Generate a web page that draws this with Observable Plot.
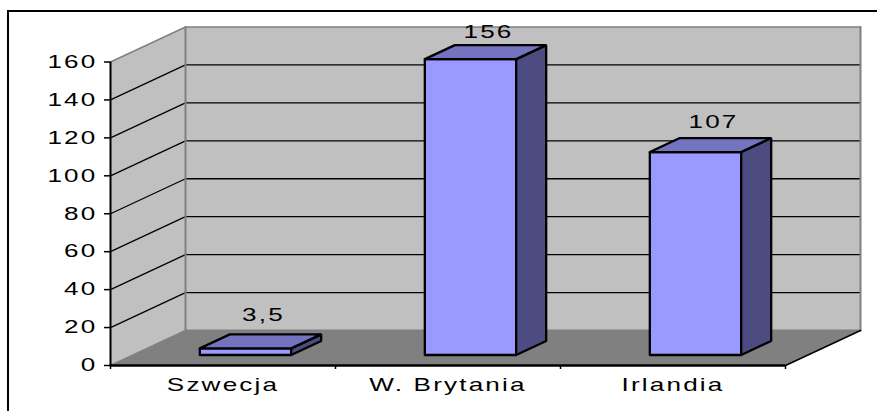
<!DOCTYPE html>
<html><head><meta charset="utf-8">
<script src="https://cdn.jsdelivr.net/npm/d3@7"></script>
<script src="https://cdn.jsdelivr.net/npm/@observablehq/plot@0.6"></script>
<style>
html,body{margin:0;padding:0;background:#fff;}
#chart{position:relative;width:877px;height:411px;overflow:hidden;}
#chart svg{display:block;overflow:visible;}
#box{position:absolute;left:7px;top:10px;width:880px;height:420px;border:2px solid #000;pointer-events:none;}
</style></head><body>
<div id="chart"><div id="box"></div></div>
<script>
const categories = ["Szwecja", "W. Brytania", "Irlandia"];
const values = [3.5, 156, 107];
const valueLabels = ["3,5", "156", "107"];
const yTicks = [0, 20, 40, 60, 80, 100, 120, 140, 160];
const gridTicks = [20, 40, 60, 80, 100, 120, 140];
const categoryEdges = [0, 1, 2, 3];
const categoryCentres = [0.5, 1.5, 2.5];

// oblique projection of (category position, value, depth 0..1)
const depthX = 1 / 3;        // category units per full depth
const depthY = 18.45;        // value units per full depth
const P = (c, v, z) => ({px: c + z * depthX, py: v + z * depthY});
const poly = (pts, id) => {
  const out = pts.map(([c, v, z]) => ({...P(c, v, z), id}));
  out.push(out[0]);
  return out;
};
const seg = (a, b, id) => [{...P(...a), id}, {...P(...b), id}];
const face = (pts, fill, stroke, sw) =>
  Plot.line(poly(pts, 0), {x: "px", y: "py", fill, stroke: stroke || "none", strokeWidth: sw || 0, curve: "linear", strokeLinejoin: "miter"});
const edge = (a, b, stroke, sw) =>
  Plot.line(seg(a, b, 0), {x: "px", y: "py", stroke, strokeWidth: sw, curve: "linear"});

const yMax = yTicks[yTicks.length - 1];
const xMax = categoryEdges[categoryEdges.length - 1];
const wallGrey = "#c0c0c0", floorGrey = "#808080", edgeGrey = "#808080";

const marks = [
  // walls and floor
  face([[0,0,0],[0,yMax,0],[0,yMax,1],[0,0,1]], wallGrey),
  face([[0,0,1],[0,yMax,1],[xMax,yMax,1],[xMax,0,1]], wallGrey),
  face([[0,0,0],[0,0,1],[xMax,0,1],[xMax,0,0]], floorGrey),
  // gridlines
  ...gridTicks.flatMap(t => [edge([0,t,0],[0,t,1],"#000",1.3), edge([0,t,1],[xMax,t,1],"#000",1.3)]),
  // grey wall edges
  edge([0,yMax,0],[0,yMax,1],edgeGrey,1.5),
  edge([0,yMax,1],[xMax,yMax,1],edgeGrey,1.5),
  edge([0,0,1],[0,yMax,1],edgeGrey,2),
  edge([xMax,0,1],[xMax,yMax,1],edgeGrey,2),
  edge([0,0,1],[xMax,0,1],edgeGrey,2),
  edge([0,0,0],[0,0,1],edgeGrey,1.5),
  edge([xMax,0,0],[xMax,0,1],"#000",1.5),
  // bars
  ...values.flatMap((v, i) => {
    const a = i + 0.297, b = i + 0.703, z0 = 0.3, z1 = 0.7;
    return [
      face([[a,0,z0],[b,0,z0],[b,v,z0],[a,v,z0]], "#9999ff", "#000", 2.3),
      face([[b,0,z0],[b,0,z1],[b,v,z1],[b,v,z0]], "#4c4c80", "#000", 2.3),
      face([[a,v,z0],[b,v,z0],[b,v,z1],[a,v,z1]], "#7373bf", "#000", 2.3)
    ];
  }),
  // value labels
  ...values.map((v, i) => Plot.text([{...P(i + 0.5, v, 0.7), label: valueLabels[i]}], {
    x: "px", y: "py", text: "label", dx: -12, dy: v > 150 ? -13 : v < 10 ? -19 : -16, fontSize: 18, fill: "#000"
  })),
  // axes
  Plot.axisY({ticks: yTicks, tickSize: 6, tickPadding: 7, fontSize: 18, stroke: "#000", fill: "#000", strokeWidth: 1.5, label: null}),
  Plot.ruleX([0], {y1: 0, y2: yMax, stroke: "#000", strokeWidth: 2}),
  Plot.ruleY([0], {x1: 0, x2: xMax, stroke: "#000", strokeWidth: 2.5}),
  Plot.axisX({ticks: categoryEdges, tickSize: 4, tickFormat: () => "", stroke: "#000", strokeWidth: 1.5, label: null}),
  Plot.axisX({ticks: categoryCentres, tickSize: 0, tickPadding: 13, fontSize: 18, fill: "#000", tickFormat: d => categories[Math.floor(d)], label: null})
];

const plot = Plot.plot({
  width: 877, height: 411,
  marginLeft: 110, marginRight: 92, marginTop: 61.5, marginBottom: 46,
  x: {domain: [0, xMax]},
  y: {domain: [0, yMax]},
  style: {fontFamily: "'Liberation Sans', Arial, sans-serif", background: "transparent", letterSpacing: "1.5px", overflow: "visible"},
  marks
});
// the reference's lettering is stretched horizontally: widen each label about its anchor
d3.select(plot).selectAll("text").each(function () {
  const t = this.getAttribute("transform") || "";
  this.setAttribute("transform", t + " scale(1.45,1)");
});
document.getElementById("chart").appendChild(plot);
</script>
</body></html>
